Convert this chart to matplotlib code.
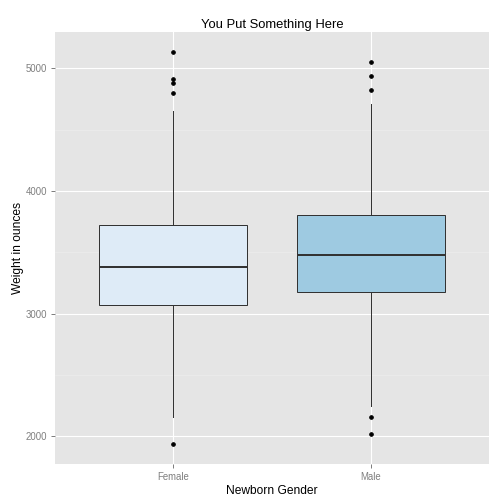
import matplotlib
matplotlib.use("Agg")
import matplotlib.pyplot as plt
from matplotlib.ticker import MultipleLocator

plt.rcParams['font.family'] = ['Liberation Sans', 'DejaVu Sans']

# Box summary values
genders = ['Female', 'Male']
q1 = [3069, 3174]
median = [3381, 3481]
q3 = [3720, 3802]
whisker_low = [2161, 2250]
whisker_high = [4654, 4709]
outliers = [[5135, 4915, 4883, 4799, 1941], [5054, 4940, 4826, 2161, 2022]]
fills = ['#DEEBF7', '#9ECAE1']

stats = []
for i, g in enumerate(genders):
    stats.append({'label': g, 'q1': q1[i], 'med': median[i], 'q3': q3[i],
                  'whislo': whisker_low[i], 'whishi': whisker_high[i],
                  'fliers': outliers[i]})

fig = plt.figure(figsize=(7, 7), dpi=72)
ax = fig.add_axes([55 / 504, 40 / 504, 434 / 504, 432 / 504])
ax.set_facecolor('#E5E5E5')

# grid
ax.yaxis.set_major_locator(MultipleLocator(1000))
ax.yaxis.set_minor_locator(MultipleLocator(500))
ax.grid(which='major', color='white', linewidth=1.1)
ax.grid(which='minor', axis='y', color='#F0F0F0', linewidth=0.5)
ax.set_axisbelow(True)

bp = ax.bxp(stats, positions=[1, 2], widths=0.75, patch_artist=True,
            showcaps=False, manage_ticks=False,
            boxprops=dict(edgecolor='#333333', linewidth=1.0),
            medianprops=dict(color='#333333', linewidth=2.0),
            whiskerprops=dict(color='#333333', linewidth=1.0),
            flierprops=dict(marker='o', markersize=3.6, markerfacecolor='black',
                            markeredgecolor='black'))
for patch, c in zip(bp['boxes'], fills):
    patch.set_facecolor(c)

ax.set_xlim(0.4, 2.6)
ax.set_ylim(1775, 5296)
ax.set_xticks([1, 2])
ax.set_xticklabels(genders)
ax.set_yticks([2000, 3000, 4000, 5000])

for s in ax.spines.values():
    s.set_visible(False)
ax.tick_params(axis='both', which='major', colors='#7F7F7F', labelcolor='#7F7F7F',
               labelsize=9.6, length=4, width=1)
ax.tick_params(axis='y', which='minor', length=0)

ax.set_xlabel('Newborn Gender', fontsize=12, labelpad=4)
ax.set_ylabel('Weight in ounces', fontsize=12, labelpad=2)
ax.set_title('You Put Something Here', fontsize=13, pad=4)

fig.savefig('out.png', dpi=72)
